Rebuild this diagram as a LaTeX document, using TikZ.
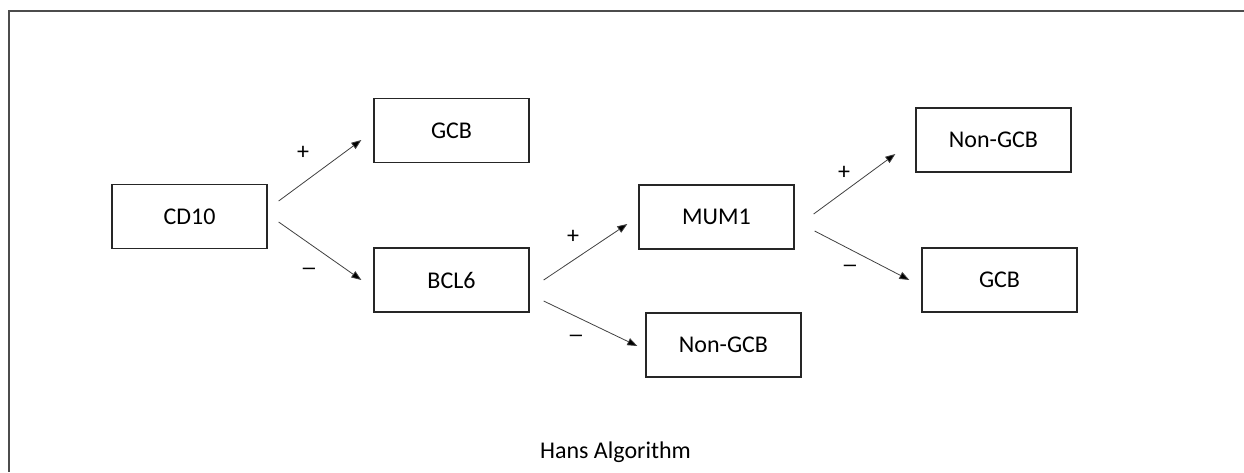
\documentclass[tikz,border=0pt]{standalone}
\usepackage{fontspec}
\setmainfont{Carlito}
\newfontfamily\dashfont{Liberation Sans}
\usetikzlibrary{arrows.meta}
\begin{document}
\begin{tikzpicture}[x=1pt,y=-1pt,
  box/.style={draw=black!85,line width=1.3pt,minimum width=155pt,minimum height=64pt,inner sep=0pt,
    font=\fontsize{24}{28}\selectfont},
  conn/.style={draw=black!75,line width=0.8pt,-{Triangle[length=10pt,width=7.5pt,fill=black]}},
  sign/.style={inner sep=0pt,font=\fontsize{24}{28}\selectfont},
  minus/.style={inner sep=0pt,font=\dashfont\fontsize{22}{26}\selectfont}]
\useasboundingbox (0,0) rectangle (1244,472);
\draw[black!70,line width=1.4pt] (1244,11) -- (9,11) -- (9,472);
\node[box] (cd10) at (189.5,216.5) {CD10};
\node[box] (gcb1) at (451.5,130.5) {GCB};
\node[box] (bcl6) at (451.5,280) {BCL6};
\node[box] (mum1) at (716.5,217) {MUM1};
\node[box] (ngcb1) at (723.5,345) {Non-GCB};
\node[box] (ngcb2) at (993.5,140) {Non-GCB};
\node[box] (gcb2) at (999.5,280) {GCB};
\draw[conn] ([shift={(11,-15.5)}]cd10.east) -- ([shift={(-12,9.5)}]gcb1.west);
\draw[conn] ([shift={(11,5.5)}]cd10.east) -- ([shift={(-12,0)}]bcl6.west);
\draw[conn] ([shift={(14,0)}]bcl6.east) -- ([shift={(-11,7)}]mum1.west);
\draw[conn] ([shift={(14,21)}]bcl6.east) -- ([shift={(-8,1)}]ngcb1.west);
\draw[conn] ([shift={(19,-3)}]mum1.east) -- ([shift={(-20,14)}]ngcb2.west);
\draw[conn] ([shift={(20,14)}]mum1.east) -- ([shift={(-12,0)}]gcb2.west);
\node[sign] (p1) at (303,153) {+};
\node[minus] (m1) at (309,271) {–};
\node[sign] (p2) at (573,237) {+};
\node[minus] (m2) at (576,338) {–};
\node[sign] (p3) at (844,173) {+};
\node[minus] (m3) at (850,268) {–};
\node[inner sep=0pt,anchor=base,font=\fontsize{24}{28}\selectfont] (title) at (615.5,458) {Hans Algorithm};
\end{tikzpicture}
\end{document}
